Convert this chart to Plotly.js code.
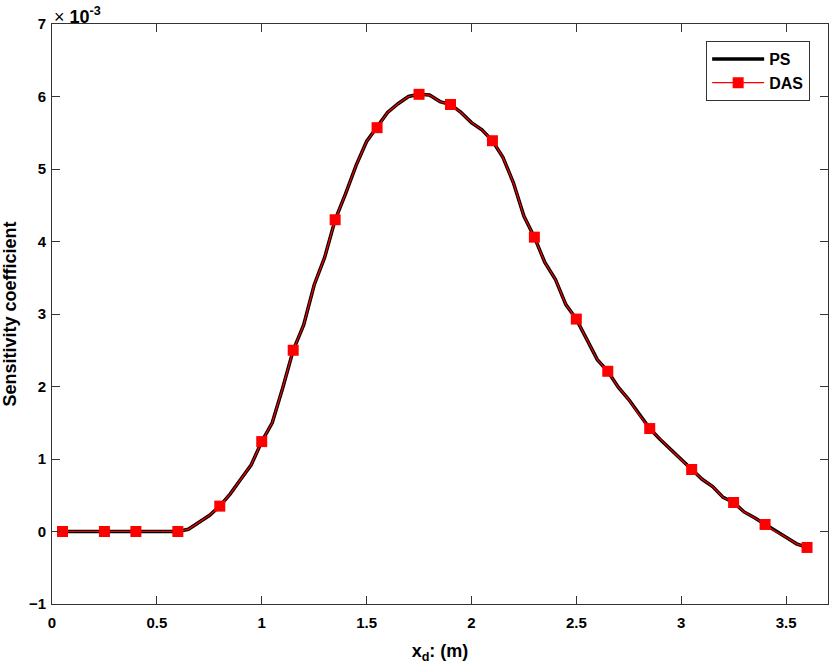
<!DOCTYPE html>
<html>
<head>
<meta charset="utf-8">
<script src="https://cdn.plot.ly/plotly-3.0.1.min.js"></script>
<style>html,body{margin:0;padding:0;background:#fff;}#chart{width:830px;height:664px;}</style>
</head>
<body>
<div id="chart"></div>
<script>
// x positions (m) and sensitivity coefficients (units of 1e-3)
const psX = [0.05,0.1,0.15,0.2,0.25,0.3,0.35,0.4,0.45,0.5,0.55,0.6,0.65,0.7,0.75,0.8,0.85,0.9,0.95,1.0,
  1.05,1.1,1.15,1.2,1.25,1.3,1.35,1.4,1.45,1.5,1.55,1.6,1.65,1.7,1.75,1.8,1.85,1.9,1.95,2.0,
  2.05,2.1,2.15,2.2,2.25,2.3,2.35,2.4,2.45,2.5,2.55,2.6,2.65,2.7,2.75,2.8,2.85,2.9,2.95,3.0,
  3.05,3.1,3.15,3.2,3.25,3.3,3.35,3.4,3.45,3.5,3.55,3.6];
const psY = [0,0,0,0,0,0,0,0,0,0,0,0,0.03,0.12,0.22,0.35,0.52,0.72,0.92,1.24,
  1.5,1.98,2.50,2.85,3.40,3.78,4.30,4.66,5.05,5.38,5.57,5.78,5.90,6.00,6.03,6.02,5.93,5.89,5.78,5.64,
  5.54,5.39,5.16,4.81,4.35,4.06,3.71,3.48,3.13,2.93,2.65,2.37,2.21,1.99,1.82,1.61,1.42,1.27,1.13,0.99,
  0.855,0.72,0.62,0.47,0.40,0.27,0.19,0.097,0.0,-0.08,-0.17,-0.22];
// DAS curve (same sampling as PS), markers shown at a subset of its points
const dasLineX = psX;
const dasLineY = [0,0,0,0,0,0,0,0,0,0,0,0,0.03,0.12,0.22,0.35,0.52,0.72,0.92,1.24,
  1.5,1.98,2.50,2.85,3.40,3.78,4.30,4.66,5.05,5.38,5.57,5.78,5.90,6.00,6.03,6.02,5.93,5.89,5.78,5.64,
  5.54,5.39,5.16,4.81,4.35,4.06,3.71,3.48,3.13,2.93,2.65,2.37,2.21,1.99,1.82,1.61,1.42,1.27,1.13,0.99,
  0.855,0.72,0.62,0.47,0.40,0.27,0.19,0.097,0.0,-0.08,-0.17,-0.22];
const dasX = [0.05,0.25,0.4,0.6,0.8,1.0,1.15,1.35,1.55,1.75,1.9,2.1,2.3,2.5,2.65,2.85,3.05,3.25,3.4,3.6];
const dasY = [0,0,0,0,0.35,1.24,2.50,4.30,5.57,6.03,5.89,5.39,4.06,2.93,2.21,1.42,0.855,0.40,0.097,-0.22];

const FAM = '"Liberation Sans", Arial, Helvetica, sans-serif';
const tickFont = {family: FAM, size: 15, color: '#000', weight: 'bold'};
const titleFont = {family: FAM, size: 18, color: '#000', weight: 'bold'};

const traces = [
  {x: psX, y: psY, name: 'PS', mode: 'lines', type: 'scatter',
   line: {color: '#000', width: 3.5}},
  {x: dasLineX, y: dasLineY, name: 'DAS', mode: 'lines', type: 'scatter', showlegend: false,
   line: {color: '#ff0000', width: 1.2}},
  {x: dasX, y: dasY, name: 'DAS', mode: 'markers', type: 'scatter', showlegend: false,
   marker: {symbol: 'square', size: 11, color: '#ff0000'}},
  {x: [null], y: [null], name: 'DAS', mode: 'lines+markers', type: 'scatter',
   line: {color: '#ff0000', width: 1.2},
   marker: {symbol: 'square', size: 11, color: '#ff0000'}}
];

const axisCommon = {
  showgrid: false, zeroline: false, showline: true, mirror: 'ticks',
  linecolor: '#333', linewidth: 1, ticks: 'inside', ticklen: 8, tickcolor: '#333',
  tickfont: tickFont
};

const layout = {
  width: 830, height: 664,
  margin: {l: 52, r: 2, t: 24, b: 60},
  paper_bgcolor: '#fff', plot_bgcolor: '#fff',
  showlegend: true,
  legend: {x: 0.977, y: 0.9707, xanchor: 'right', yanchor: 'top',
    bordercolor: '#333', borderwidth: 1, bgcolor: '#fff',
    font: {family: FAM, size: 16, color: '#000', weight: 'bold'}, tracegroupgap: 0,
    itemwidth: 52},
  xaxis: Object.assign({}, axisCommon, {range: [0, 3.7], tick0: 0, dtick: 0.5,
    ticklabelstandoff: 5,
    title: {text: 'x<sub>d</sub>: (m)', font: titleFont, standoff: 14}}),
  yaxis: Object.assign({}, axisCommon, {range: [-1, 7], tick0: -1, dtick: 1,
    ticklabelstandoff: 2,
    title: {text: 'Sensitivity coefficient', font: titleFont, standoff: 10}}),
  annotations: [{
    text: '<span style="font-weight:normal">\u00d7</span> 10<sup>-3</sup>', xref: 'paper', yref: 'paper', x: 0, y: 1,
    xanchor: 'left', yanchor: 'bottom', showarrow: false,
    font: {family: FAM, size: 18, color: '#000', weight: 'bold'}, yshift: -5
  }]
};

Plotly.newPlot('chart', traces, layout, {displayModeBar: false, staticPlot: true});
</script>
</body>
</html>
